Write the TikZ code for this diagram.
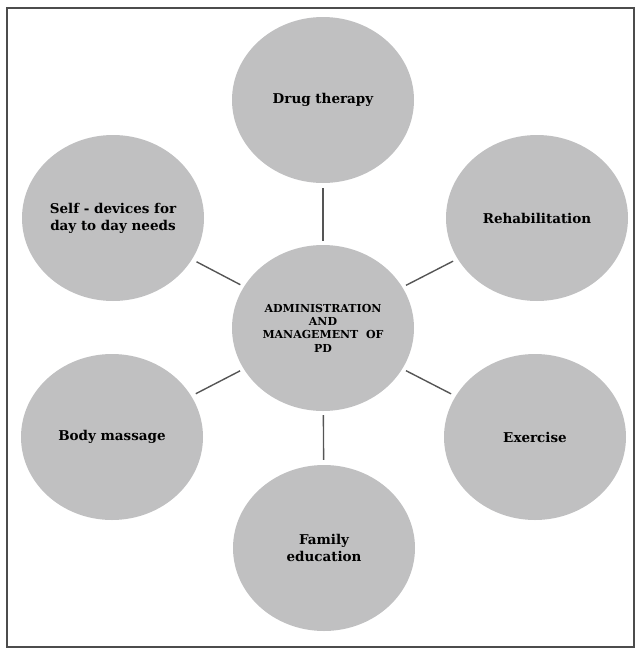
\documentclass[tikz,border=0pt]{standalone}
\usepackage{fontspec}
\setmainfont{DejaVu Serif}
\usetikzlibrary{shapes.geometric}
\definecolor{bubblegray}{RGB}{192,192,193}
\definecolor{linegray}{RGB}{85,85,85}

\begin{document}
\begin{tikzpicture}[
    x=1pt, y=-1pt,
    bubble/.style={ellipse, fill=bubblegray, minimum width=182pt, minimum height=166pt, inner sep=0pt, align=center, font=\bfseries\fontsize{13.5}{17}\selectfont},
    link/.style={draw=linegray, line width=1.4pt, shorten <=4pt, shorten >=5pt}
]
\useasboundingbox (0,0) rectangle (641,654);
\draw[line width=2pt, draw=black!70] (7,8) rectangle (634,647);

\node[bubble, font=\bfseries\fontsize{11}{13.3}\selectfont] (ctr) at (323,328) {ADMINISTRATION\\AND\\MANAGEMENT~~OF\\PD};
\node[bubble] (drug) at (323,100) {Drug therapy};
\node[bubble] (rehab) at (537,218) {Rehabilitation};
\node[bubble] (exer) at (535,437) {Exercise};
\node[bubble] (family) at (324,548) {Family\\education};
\node[bubble] (massage) at (112,437) {Body massage};
\node[bubble] (selfdev) at (113,218) {Self - devices for\\day to day needs};

\draw[link] (ctr) -- (drug);
\draw[link] (ctr) -- (rehab);
\draw[link] (ctr) -- (exer);
\draw[link] (ctr) -- (family);
\draw[link] (ctr) -- (massage);
\draw[link] (ctr) -- (selfdev);

\end{tikzpicture}
\end{document}
